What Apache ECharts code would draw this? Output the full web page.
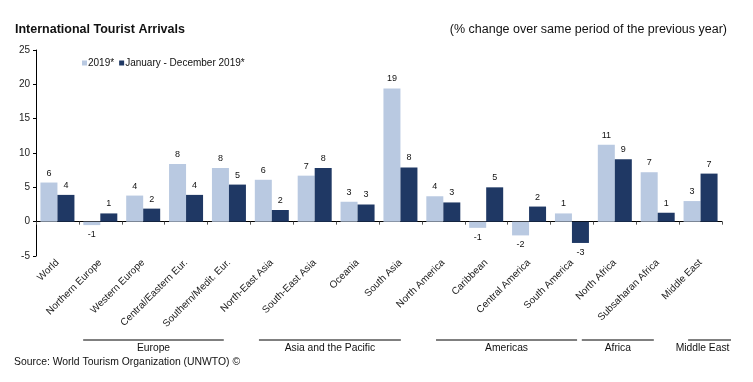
<!DOCTYPE html>
<html><head><meta charset="utf-8">
<script src="https://cdn.jsdelivr.net/npm/echarts@6/dist/echarts.min.js"></script>
<style>html,body{margin:0;padding:0;background:#fff}#c{width:753px;height:382px}</style>
</head><body><div id="c"></div>
<script>
var categories = ['World','Northern Europe','Western Europe','Central/Eastern Eur.','Southern/Medit. Eur.','North-East Asia','South-East Asia','Oceania','South Asia','North America','Caribbean','Central America','South America','North Africa','Subsaharan Africa','Middle East'];
var series2019 = [5.7,-0.5,3.8,8.4,7.8,6.1,6.7,2.9,19.4,3.7,-0.9,-2.0,1.2,11.2,7.2,3.0];
var seriesJanDec = [3.9,1.2,1.9,3.9,5.4,1.7,7.8,2.5,7.9,2.8,5.0,2.2,-3.1,9.1,1.3,7.0];
var seriesNames = ['2019*','January - December 2019*'];
var yTicks = [-5,0,5,10,15,20,25];
var groupNames = ['Europe','Asia and the Pacific','Americas','Africa','Middle East'];
var groupFirst = [1,5,9,13,15];
var groupLast = [4,8,12,14,15];
var FONT = '"Liberation Sans", Arial, sans-serif';
var chart = echarts.init(document.getElementById('c'));
function fmt(p){var v=p.value;var r=(v<0?-1:1)*Math.round(Math.abs(v));return String(r);}
function labelCfg(){return {show:true,position:'outside',distance:5,fontSize:9,color:'#111',fontFamily:FONT,formatter:fmt};}
function mk(vals){return vals.map(function(v){return {value:v,label:{position:v<0?'bottom':'top'}};});}
chart.setOption({
  animation:false,
  textStyle:{fontFamily:FONT},
  title:[
    {text:'International Tourist Arrivals',left:10,top:18,textStyle:{fontSize:12.5,fontWeight:'bold',color:'#111',fontFamily:FONT}},
    {text:'(% change over same period of the previous year)',right:21,top:18,textStyle:{fontSize:12.5,fontWeight:'normal',color:'#111',fontFamily:FONT}}
  ],
  legend:{left:77,top:53,itemWidth:5,itemHeight:5,itemGap:5,icon:'rect',textStyle:{fontSize:10,color:'#111',padding:[0,0,0,-4]},data:seriesNames},
  grid:{left:36,right:31,top:50,bottom:126,containLabel:false},
  xAxis:{type:'category',data:categories,
    axisLine:{onZero:true,lineStyle:{color:'#000',width:1}},
    axisTick:{show:true,length:3,lineStyle:{color:'#555'}},
    axisLabel:{rotate:45,margin:5,fontSize:10,color:'#222',interval:0,fontFamily:FONT}},
  yAxis:{type:'value',min:-5,max:25,interval:5,
    axisLine:{show:true,lineStyle:{color:'#000'}},
    axisTick:{show:true,length:3,lineStyle:{color:'#000'}},
    splitLine:{show:false},
    axisLabel:{fontSize:10,color:'#222',margin:6,formatter:function(v){return yTicks.indexOf(v)>=0?String(v):'';}}},
  series:[
    {name:seriesNames[0],type:'bar',data:mk(series2019),barWidth:17,barGap:'0%',itemStyle:{color:'#b9c9e1'},label:labelCfg()},
    {name:seriesNames[1],type:'bar',data:mk(seriesJanDec),barWidth:17,barGap:'0%',itemStyle:{color:'#1f3864'},label:labelCfg()}
  ]
});
function drawGroups(){
  // layout tweaks (in fractions of a category width) for the bracket lines
  var startOff = [0.10,0.20,0.33,-0.27,0.21];
  var endOff = [-0.62,-0.49,-0.38,-0.59,0.21];
  var labelShift = [0,0,0,0,-7];
  var els=[];
  var w=chart.convertToPixel({xAxisIndex:0},categories[1])-chart.convertToPixel({xAxisIndex:0},categories[0]);
  var yLine=340;
  groupNames.forEach(function(name,i){
    var x0=chart.convertToPixel({xAxisIndex:0},categories[groupFirst[i]])-w/2+startOff[i]*w;
    var x1=chart.convertToPixel({xAxisIndex:0},categories[groupLast[i]])+w/2+endOff[i]*w;
    els.push({type:'line',shape:{x1:x0,y1:yLine,x2:x1,y2:yLine},style:{stroke:'#000',lineWidth:1}});
    els.push({type:'text',x:(x0+x1)/2+labelShift[i],y:yLine+3,style:{text:name,fill:'#111',font:'10.3px '+FONT,textAlign:'center',textVerticalAlign:'top'}});
  });
  els.push({type:'text',x:14,y:357,style:{text:'Source: World Tourism Organization (UNWTO) \u00A9',fill:'#111',font:'10.4px '+FONT,textAlign:'left',textVerticalAlign:'top'}});
  chart.setOption({graphic:els});
}
drawGroups();
</script></body></html>
